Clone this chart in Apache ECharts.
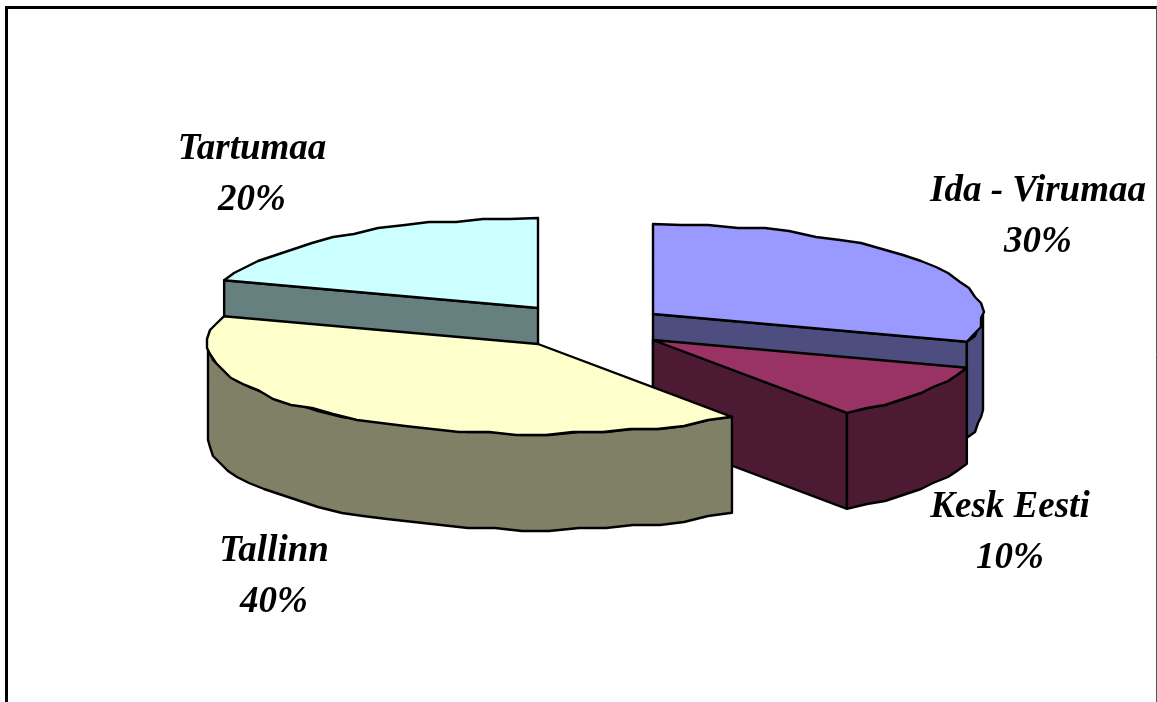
<!DOCTYPE html>
<html>
<head>
<meta charset="utf-8">
<title>Pie</title>
<script src="https://cdn.jsdelivr.net/npm/echarts@6/dist/echarts.min.js"></script>
<style>
  html, body { margin: 0; background: #fff; overflow: hidden; }
  #chart { width: 1157px; height: 702px; }
</style>
</head>
<body>
<div id="chart"></div>
<script>
const regions = ['Ida - Virumaa', 'Kesk Eesti', 'Tallinn', 'Tartumaa']
const shares = [30, 10, 40, 20]

const topColors = ['#9999ff', '#993366', '#ffffcc', '#ccffff']
const sideColors = ['#4d4d80', '#4d1a33', '#808066', '#668080']

// exploded slice apexes and label centres, px
const apexes = [[653, 314], [653, 340], [538, 344], [538, 308]]
const labelPos = [[1038, 191], [1010, 507], [274, 551], [252, 149]]
const paintOrder = [0, 1, 3, 2]

const rx = 330
const ry = 90
const depth = 96
const grid = 3 // the original outline is snapped to a coarse grid, hence the wobble

const total = shares.reduce((a, b) => a + b, 0)
const starts = []
shares.reduce((sum, v, i) => { starts[i] = sum; return sum + v }, 0)
const toAngle = v => v / total * 360

function rimPoint(apex, deg, drop = 0) {
  const a = deg * Math.PI / 180
  return [apex[0] + rx * Math.sin(a), apex[1] - ry * Math.cos(a) + drop]
}

function arc(apex, from, to, drop = 0) {
  const pts = []
  const steps = Math.max(2, Math.ceil((to - from) / 5))
  for (let i = 0; i <= steps; i++) {
    const p = rimPoint(apex, from + (to - from) * i / steps, drop)
    // keep the two ends exact so walls still line up
    if (i === 0 || i === steps) pts.push(p)
    else pts.push([Math.round(p[0] / grid) * grid, Math.round(p[1] / grid) * grid])
  }
  return pts
}

function face(points, fill) {
  return {
    type: 'polygon',
    shape: { points },
    style: { fill, stroke: '#000', lineWidth: 2.4, lineJoin: 'round' }
  }
}

function radialWall(apex, deg, fill) {
  const edge = rimPoint(apex, deg)
  return face([apex, edge, [edge[0], edge[1] + depth], [apex[0], apex[1] + depth]], fill)
}

function renderSlice(params, api) {
  const idx = paintOrder[params.dataIndex]
  const apex = apexes[idx]
  const from = toAngle(starts[idx])
  const to = from + toAngle(api.value(0))
  const side = sideColors[idx]
  const children = []

  if (Math.sin(to * Math.PI / 180) > 1e-6) children.push(radialWall(apex, to, side))
  if (Math.sin(from * Math.PI / 180) < -1e-6) children.push(radialWall(apex, from, side))

  // only the front half of the rim can be seen
  const rimFrom = Math.max(from, 90)
  const rimTo = Math.min(to, 270)
  if (rimTo > rimFrom) {
    const upper = arc(apex, rimFrom, rimTo)
    const lower = arc(apex, rimFrom, rimTo, depth).reverse()
    children.push(face(upper.concat(lower), side))
  }

  children.push(face([apex].concat(arc(apex, from, to)), topColors[idx]))

  const font = 'italic bold 37px "Liberation Serif", "Times New Roman", serif'
  const pos = labelPos[idx]
  children.push({
    type: 'text',
    style: { text: regions[idx], x: pos[0], y: pos[1], font, fill: '#000', align: 'center', verticalAlign: 'middle' }
  })
  children.push({
    type: 'text',
    style: { text: api.value(0) + '%', x: pos[0], y: pos[1] + 51, font, fill: '#000', align: 'center', verticalAlign: 'middle' }
  })
  return { type: 'group', children }
}

const chart = echarts.init(document.getElementById('chart'))
chart.setOption({
  animation: false,
  graphic: [
    { type: 'line', shape: { x1: 6.5, y1: 7.5, x2: 6.5, y2: 702 }, style: { stroke: '#000', lineWidth: 3 } },
    { type: 'line', shape: { x1: 5, y1: 7.5, x2: 1157, y2: 7.5 }, style: { stroke: '#000', lineWidth: 3 } },
    { type: 'line', shape: { x1: 1156.5, y1: 7, x2: 1156.5, y2: 702 }, style: { stroke: '#555', lineWidth: 1 } }
  ],
  series: [{
    type: 'custom',
    coordinateSystem: 'none',
    silent: true,
    clip: false,
    renderItem: renderSlice,
    data: paintOrder.map(i => [shares[i]])
  }]
})
</script>
</body>
</html>
